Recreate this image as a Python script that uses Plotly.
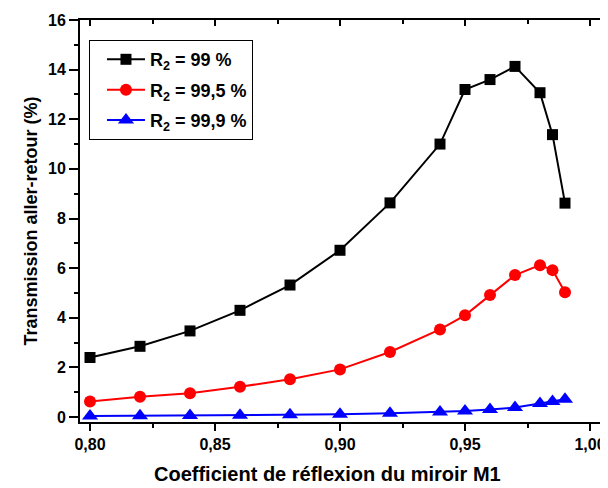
import plotly.graph_objects as go

x_vals = [0.80, 0.82, 0.84, 0.86, 0.88, 0.90, 0.92, 0.94, 0.95, 0.96, 0.97, 0.98, 0.985, 0.99]
r99 = [2.4, 2.85, 3.47, 4.3, 5.32, 6.72, 8.63, 11.0, 13.2, 13.6, 14.13, 13.07, 11.38, 8.62]
r995 = [0.63, 0.82, 0.96, 1.22, 1.52, 1.92, 2.62, 3.53, 4.1, 4.92, 5.72, 6.12, 5.92, 5.03]
r999 = [0.04, 0.05, 0.06, 0.07, 0.09, 0.11, 0.15, 0.2, 0.24, 0.3, 0.38, 0.55, 0.63, 0.72]
names = ["R<sub>2</sub> = 99 %", "R<sub>2</sub> = 99,5 %", "R<sub>2</sub> = 99,9 %"]
x_ticks = [0.80, 0.85, 0.90, 0.95, 1.00]
x_ticklabels = ["0,80", "0,85", "0,90", "0,95", "1,00"]
y_ticks = [0, 2, 4, 6, 8, 10, 12, 14, 16]

FONT = "Liberation Sans, Arial, sans-serif"
XR = [0.796, 1.0072]
YR = [-0.2, 16]

fig = go.Figure()
series = [(r99, "black", "square", 11), (r995, "red", "circle", 12), (r999, "blue", "triangle-up", 14)]
for i, ((ys, col, sym, sz), nm) in enumerate(zip(series, names)):
    fig.add_trace(go.Scatter(
        x=x_vals, y=ys, name=nm, mode="lines+markers", legendgroup=f"g{i}",
        line=dict(color=col, width=2),
        marker=dict(symbol=sym, size=sz, color=col, line=dict(width=0)),
    ))

# invisible trace to activate mirror axes
fig.add_trace(go.Scatter(x=[None], y=[None], xaxis="x2", yaxis="y2", showlegend=False, hoverinfo="skip"))

common = dict(showline=True, linecolor="black", linewidth=2, showgrid=False, zeroline=False)
fig.update_layout(
    width=600, height=480,
    margin=dict(l=72, r=0, t=12, b=66),
    paper_bgcolor="white", plot_bgcolor="white",
    font=dict(family=FONT, size=16, color="black", weight="bold"),
    showlegend=True,
    legend=dict(x=0.017, y=0.95, xanchor="left", yanchor="top",
                bordercolor="black", borderwidth=1, bgcolor="white", indentation=12,
                itemwidth=38, tracegroupgap=4,
                font=dict(family=FONT, size=18, color="black", weight="bold")),
    xaxis=dict(range=XR, tickvals=x_ticks, ticktext=x_ticklabels, ticks="outside",
               ticklen=7, tickwidth=2, tickcolor="black",
               minor=dict(dtick=0.025, tick0=0.8, ticks="outside", ticklen=4, tickwidth=2, tickcolor="black"),
               tickfont=dict(family=FONT, size=16, weight="bold"), **common),
    yaxis=dict(range=YR, tickvals=y_ticks, ticks="outside",
               ticklen=9, tickwidth=2, tickcolor="black",
               minor=dict(dtick=1, tick0=0, ticks="outside", ticklen=4, tickwidth=2, tickcolor="black"),
               tickfont=dict(family=FONT, size=16, weight="bold"),
               title=dict(text="Transmission aller-retour (%)", standoff=6,
                          font=dict(family=FONT, size=18, weight="bold")), **common),
    xaxis2=dict(range=XR, overlaying="x", side="top", tickvals=x_ticks, ticks="inside",
                ticklen=6, tickwidth=2, tickcolor="black", showticklabels=False,
                minor=dict(dtick=0.025, tick0=0.8, ticks="inside", ticklen=4, tickwidth=2, tickcolor="black"),
                **common),
    yaxis2=dict(range=YR, overlaying="y", side="right", tickvals=y_ticks, ticks="inside",
                ticklen=4, tickwidth=2, tickcolor="black", showticklabels=False, **common),
    annotations=[dict(text="Coefficient de réflexion du miroir M1", xref="paper", yref="paper",
                      x=(319 - 72) / 528, y=-(466 - 414) / 402, xanchor="center", yanchor="middle",
                      showarrow=False, font=dict(family=FONT, size=20, weight="bold"))],
)

fig.write_html("out.html")
